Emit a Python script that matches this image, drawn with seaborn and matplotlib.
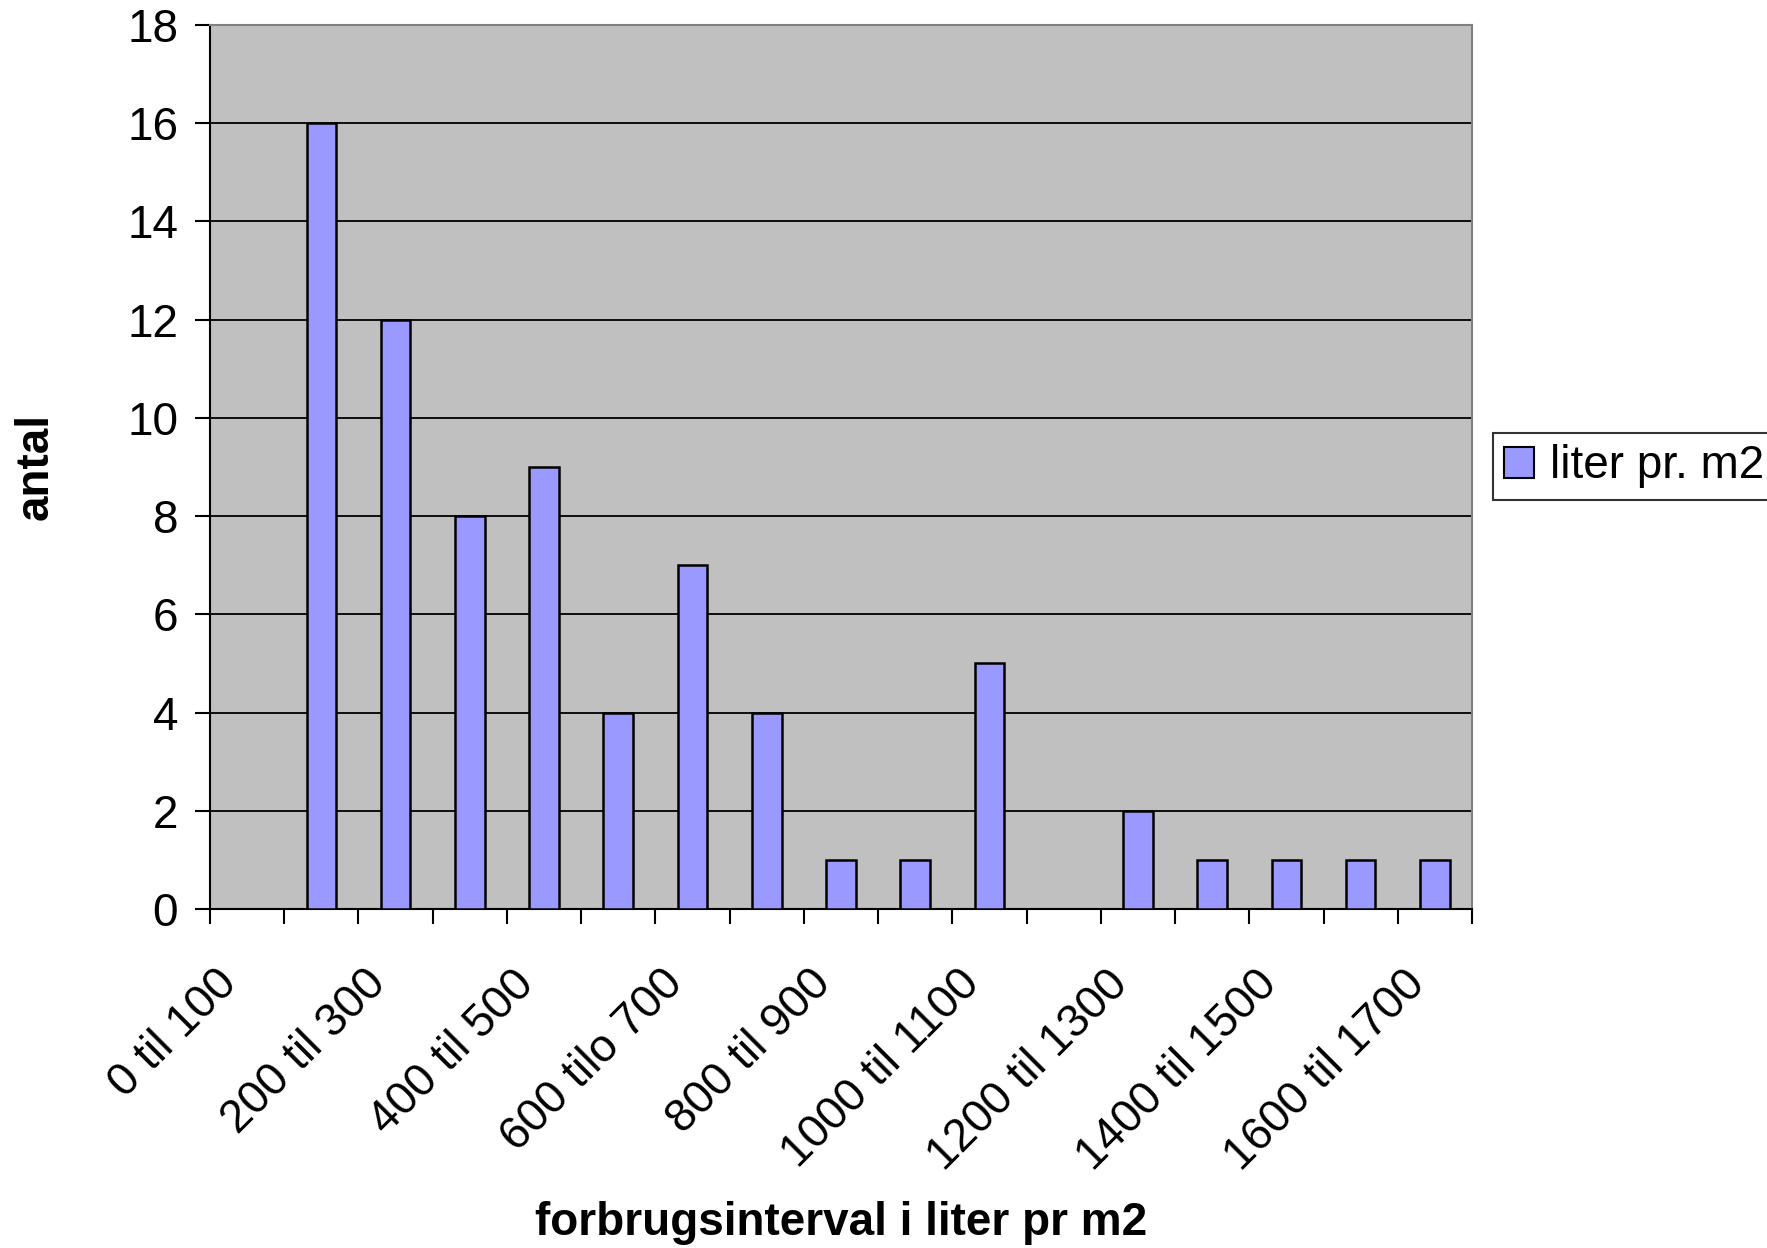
import matplotlib
matplotlib.use('Agg')
import matplotlib.pyplot as plt
import matplotlib.transforms as mtransforms
import seaborn as sns
import pandas as pd
import numpy as np
from matplotlib.patches import Patch
from matplotlib.ticker import FixedLocator

# Intervaller og antal
intervaller = ['0 til 100', '100 til 200', '200 til 300', '300 til 400', '400 til 500',
               '500 til 600', '600 tilo 700', '700 til 800', '800 til 900', '900 til 1000',
               '1000 til 1100', '1100 til 1200', '1200 til 1300', '1300 til 1400',
               '1400 til 1500', '1500 til 1600', '1600 til 1700']
antal = [0, 16, 12, 8, 9, 4, 7, 4, 1, 1, 5, 0, 2, 1, 1, 1, 1]
serie_navn = 'liter pr. m2'

df = pd.DataFrame({'interval': intervaller, 'antal': antal})

sns.set_style('white')
plt.rcParams['font.family'] = ['Liberation Sans', 'DejaVu Sans']
for k in ['text.color', 'axes.labelcolor', 'xtick.color', 'ytick.color']:
    plt.rcParams[k] = 'black'

fs = 33
fig = plt.figure(figsize=(17.67, 12.48), dpi=100)
ax = fig.add_axes([210 / 1767, 1 - 909 / 1248, (1472 - 210) / 1767, (909 - 25) / 1248])

sns.barplot(data=df, x='interval', y='antal', color='#9999FF', saturation=1,
            width=0.4, edgecolor='black', linewidth=1.8, ax=ax, zorder=3)

ax.set_facecolor('#C0C0C0')
ax.set_xlim(-0.5, len(intervaller) - 0.5)
ax.set_ylim(0, 18)
ax.set_yticks(range(0, 19, 2))
ax.yaxis.grid(True, color='black', linewidth=1.3, zorder=0)
ax.set_axisbelow(True)

# kun hver anden etiket vises
pos = np.arange(len(intervaller))
ax.set_xticks(pos[::2])
ax.set_xticklabels([intervaller[i] for i in pos[::2]], rotation=45, ha='right',
                   rotation_mode='anchor', fontsize=fs)
ax.tick_params(axis='x', which='major', length=0, pad=38)
offset = mtransforms.ScaledTranslation(-0.32, 0, fig.dpi_scale_trans)
for lbl in ax.get_xticklabels():
    lbl.set_transform(lbl.get_transform() + offset)
ax.xaxis.set_minor_locator(FixedLocator(np.arange(-0.5, len(intervaller), 1)))
ax.tick_params(axis='x', which='minor', length=11, width=1.5, color='black', bottom=True)
ax.tick_params(axis='y', length=11, width=1.5, color='black', left=True, labelsize=fs, pad=12)

for side in ['left', 'bottom']:
    ax.spines[side].set_color('black')
    ax.spines[side].set_linewidth(1.5)
for side in ['top', 'right']:
    ax.spines[side].set_color('#808080')
    ax.spines[side].set_linewidth(1.5)

ax.set_xlabel('forbrugsinterval i liter pr m2', fontsize=fs, fontweight='bold')
ax.set_ylabel('antal', fontsize=fs, fontweight='bold')
ax.xaxis.set_label_coords(0.5, -0.33)
ax.yaxis.set_label_coords(-0.121, 0.5)

handle = Patch(facecolor='#9999FF', edgecolor='black', linewidth=1.5, label=serie_navn)
leg = fig.legend(handles=[handle], loc='upper left', bbox_to_anchor=(1493 / 1767, 1 - 433 / 1248),
                 fontsize=fs, frameon=True, fancybox=False, handlelength=0.65, handleheight=0.65,
                 handletextpad=0.35, borderpad=0.25, borderaxespad=0)
leg.get_frame().set_edgecolor('black')
leg.get_frame().set_linewidth(1.5)

plt.savefig('out.png', dpi=100)
